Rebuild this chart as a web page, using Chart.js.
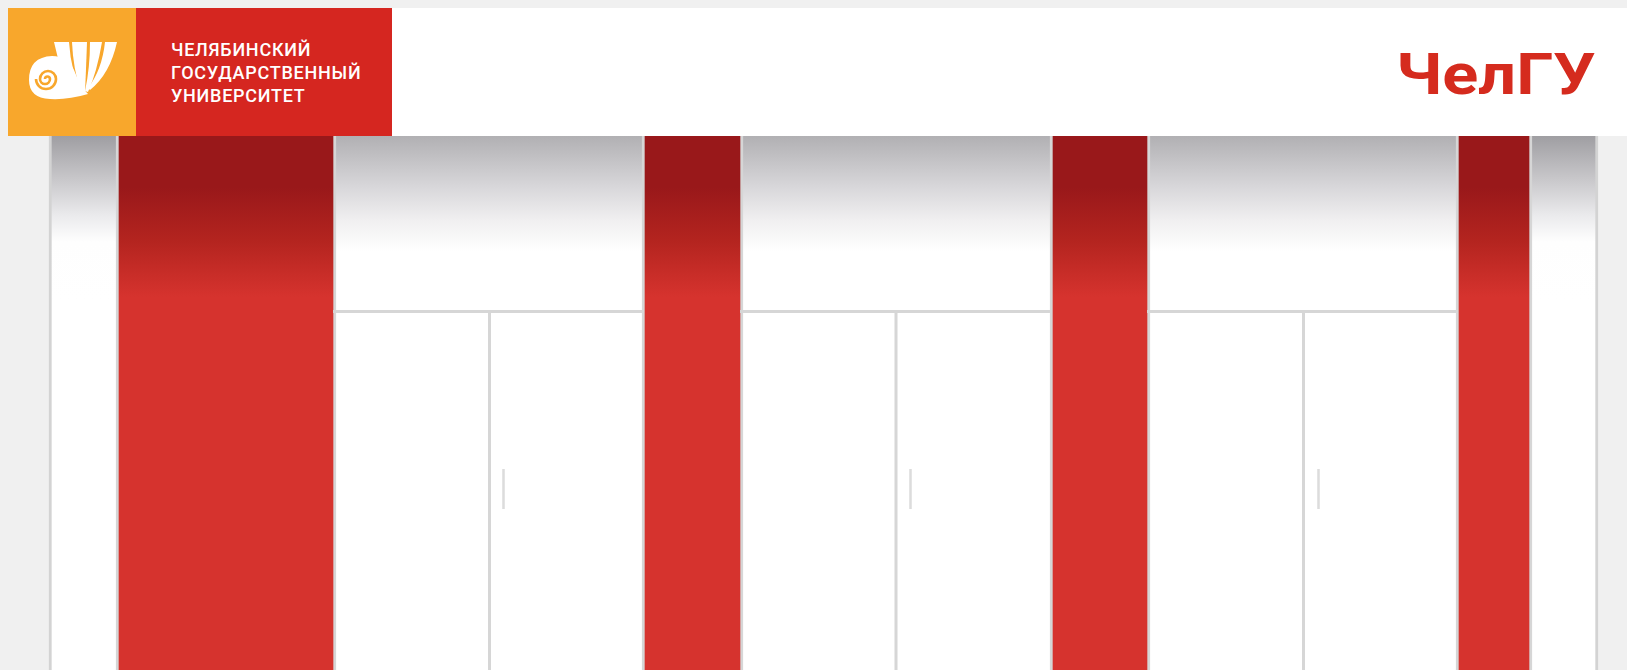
<!DOCTYPE html>
<html lang="ru">
<head>
<meta charset="utf-8">
<title>ЧелГУ</title>
<script src="https://cdn.jsdelivr.net/npm/chart.js@4"></script>
<style>
  html, body { margin: 0; padding: 0; width: 1627px; height: 670px; overflow: hidden; background: #f0f0f0; }
  #header { position: absolute; left: 8px; top: 8px; width: 1619px; height: 128px; background: #ffffff; z-index: 2; }
  #orange { position: absolute; left: 0; top: 0; width: 128px; height: 128px; background: #f8a72c; }
  #redblock { position: absolute; left: 128px; top: 0; width: 256px; height: 128px; background: #d52620; }
  #uni { position: absolute; left: 35px; top: 30px; color: #ffffff; font-family: Roboto, "Noto Sans", sans-serif;
         font-weight: 500; font-size: 18px; line-height: 23px; letter-spacing: 0.75px; white-space: nowrap; }
  #brand { position: absolute; right: 32px; top: 38px; color: #d52b1e; font-family: Roboto, "Noto Sans", sans-serif;
           font-weight: 700; font-size: 57px; line-height: 57px; white-space: nowrap;
           transform: scaleX(1.17); transform-origin: right center; }
  #wrap { position: absolute; left: 0; top: 134px; width: 1627px; height: 536px; z-index: 1; }
</style>
</head>
<body>
<div id="header">
  <div id="orange">
    <svg width="128" height="128" viewBox="0 0 128 128">
      <g fill="#ffffff">
        <path d="M46,34 L61,34 Q63,64 74,86 L66,86 Q52,64 46,34 Z"/>
        <path d="M64,34 L79,34 Q78,62 77,85 L73,85 Q65,60 64,34 Z"/>
        <path d="M82,34 L94,34 Q89,64 80,84 L77,83 Q82,60 82,34 Z"/>
        <path d="M97,34 L109,34 Q102,66 82,82 L80,80 Q94,62 97,34 Z"/>
        <path d="M21,72 Q21,49 44,48 Q60,48 66,62 Q72,78 80,86 Q60,92 42,91 Q21,90 21,72 Z"/>
      </g>
      <path d="M37,71 A2.5,2.5 0 0,1 42,71 A5,5 0 0,1 32,71 A8,8 0 0,1 48,71 A10,10 0 0,1 28,71"
            fill="none" stroke="#f8a72c" stroke-width="2.6"/>
    </svg>
  </div>
  <div id="redblock">
    <div id="uni">ЧЕЛЯБИНСКИЙ<br>ГОСУДАРСТВЕННЫЙ<br>УНИВЕРСИТЕТ</div>
  </div>
  <div id="brand">ЧелГУ</div>
</div>
<div id="wrap"><canvas id="c" width="1627" height="536"></canvas></div>
<script>
// ---- data (horizontal positions in px of the 1627 px wide view) ----
const rowLabels   = ['шкаф'];
const frameSpan   = [[49, 1598]];
const doorPanels  = [[336, 642], [743, 1050], [1150, 1456]];
const redColumns  = [[116, 336], [642, 743], [1050, 1150], [1456, 1532]];
const shelfLineY  = 311.5;
const dividerX    = [489.5, 896, 1303.5];
const dividerSpan = [312, 670];
const handleX     = [503.5, 910.5, 1318.5];
const handleSpan  = [469, 509];

const CANVAS_TOP = 134;

function vGrad(chart, stops) {
  const g = chart.ctx.createLinearGradient(0, 136 - CANVAS_TOP, 0, 300 - CANVAS_TOP);
  stops.forEach(([y, c]) => g.addColorStop((y - 136) / (300 - 136), c));
  return g;
}
const redStops   = [[136, '#99181a'], [187, '#99181a'], [240, '#b3241f'], [297, '#d6332e'], [300, '#d6332e']];
const doorStops  = [[136, '#b1b0b3'], [187, '#d8d7da'], [220, '#f0eff0'], [252, '#ffffff'], [300, '#ffffff']];
const frameStops = [[136, '#9f9ea2'], [182, '#cbcacd'], [215, '#eaeaec'], [242, '#fefefe'], [300, '#ffffff']];

function segPoints(pairsList) {
  const pts = [];
  pairsList.forEach((p, i) => {
    if (i > 0) pts.push({ x: p[0].x, y: null });
    pts.push(p[0], p[1]);
  });
  return pts;
}

const barBase = {
  type: 'bar', indexAxis: 'y', xAxisID: 'x', yAxisID: 'y',
  barPercentage: 1, categoryPercentage: 1, grouped: false, borderSkipped: false
};
const lineBase = {
  type: 'line', xAxisID: 'x', yAxisID: 'y2', pointRadius: 0, fill: false, tension: 0, spanGaps: false
};

const datasets = [];
datasets.push(Object.assign({}, lineBase, {
  label: 'ручки',
  data: segPoints(handleX.map(x => [{ x, y: handleSpan[0] }, { x, y: handleSpan[1] }])),
  borderColor: '#dcdcdc', borderWidth: 2.5
}));
datasets.push(Object.assign({}, lineBase, {
  label: 'разделители',
  data: segPoints(dividerX.map(x => [{ x, y: dividerSpan[0] }, { x, y: dividerSpan[1] }])),
  borderColor: '#d6d6d6', borderWidth: 3
}));
datasets.push(Object.assign({}, lineBase, {
  label: 'полки',
  data: segPoints(doorPanels.map(s => [{ x: s[0] - 3, y: shelfLineY }, { x: s[1] + 2, y: shelfLineY }])),
  borderColor: '#d6d6d6', borderWidth: 3
}));
redColumns.forEach((r, i) => datasets.push(Object.assign({}, barBase, {
  label: 'красная колонна ' + (i + 1),
  data: [r],
  backgroundColor: (ctx) => vGrad(ctx.chart, redStops),
  borderColor: '#d6d6d6',
  borderWidth: { left: 3, right: 3, top: 0, bottom: 0 }
})));
doorPanels.forEach((r, i) => datasets.push(Object.assign({}, barBase, {
  label: 'дверь ' + (i + 1),
  data: [r],
  backgroundColor: (ctx) => vGrad(ctx.chart, doorStops),
  borderWidth: 0
})));
frameSpan.forEach((r) => datasets.push(Object.assign({}, barBase, {
  label: 'каркас',
  data: [r],
  backgroundColor: (ctx) => vGrad(ctx.chart, frameStops),
  borderColor: '#d3d3d3',
  borderWidth: { left: 3, right: 3, top: 0, bottom: 0 }
})));

new Chart(document.getElementById('c'), {
  data: { labels: rowLabels, datasets },
  options: {
    responsive: false,
    animation: false,
    events: [],
    layout: { padding: 0 },
    plugins: { legend: { display: false }, tooltip: { enabled: false }, title: { display: false } },
    scales: {
      x:  { type: 'linear', min: 0, max: 1627, display: false },
      y:  { type: 'category', display: false, offset: true },
      y2: { type: 'linear', axis: 'y', position: 'right', min: CANVAS_TOP, max: 670, reverse: true, display: false }
    }
  }
});
</script>
</body>
</html>
